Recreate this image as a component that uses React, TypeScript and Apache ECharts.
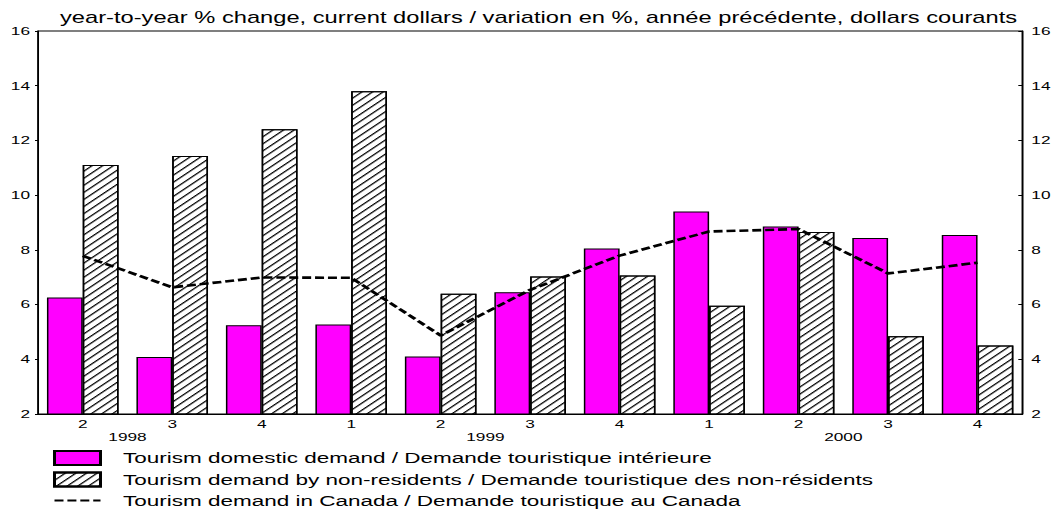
import React, { useEffect, useRef } from "react";
import * as echarts from "echarts";

// ---- data ----
const periods = [
  "1998 Q2", "1998 Q3", "1998 Q4",
  "1999 Q1", "1999 Q2", "1999 Q3", "1999 Q4",
  "2000 Q1", "2000 Q2", "2000 Q3", "2000 Q4",
];
const domesticDemand = [6.26, 4.08, 5.24, 5.27, 4.1, 6.45, 8.05, 9.4, 8.85, 8.43, 8.54];
const nonResidentDemand = [11.1, 11.43, 12.41, 13.8, 6.4, 7.03, 7.06, 5.96, 8.65, 4.84, 4.5];
const canadaDemand = [7.78, 6.63, 6.99, 6.98, 4.87, 6.54, 7.79, 8.67, 8.76, 7.14, 7.53];
const yTicks = { min: 2, max: 16, interval: 2 };

const titleText =
  "year-to-year % change, current dollars / variation en %, année précédente, dollars courants";
const seriesNames = [
  "Tourism domestic demand / Demande touristique intérieure",
  "Tourism demand by non-residents / Demande touristique des non-résidents",
  "Tourism demand in Canada / Demande touristique au Canada",
];

const FONT = "'Liberation Sans', Arial, Helvetica, sans-serif";
const W = 703;
const S = 1055 / W; // horizontal stretch of the original picture

const quarterOf = (p: string) => p.slice(-1);
const yearOf = (p: string) => p.slice(0, 4);
// year label sits at the Q2|Q3 boundary of each year
const yearMarks = periods
  .map((p, i) => ({ p, i }))
  .filter((d) => quarterOf(d.p) === "3")
  .map((d) => ({ value: d.i, label: yearOf(d.p) }));

export default function App() {
  const ref = useRef<HTMLDivElement>(null);

  useEffect(() => {
    if (!ref.current) return;
    const chart = echarts.init(ref.current, undefined, { renderer: "svg" });
    const axisText = { fontFamily: FONT, fontSize: 11.5, color: "#000" };
    chart.setOption({
      animation: false,
      backgroundColor: "#fff",
      title: {
        text: titleText,
        left: 60 / S,
        top: 10,
        padding: 0,
        textStyle: { fontFamily: FONT, fontSize: 15.8, fontWeight: "normal", color: "#000" },
      },
      legend: {
        orient: "vertical",
        left: 53 / S,
        top: 450,
        height: 60,
        padding: 0,
        itemWidth: 46 / S,
        itemHeight: 14,
        itemGap: 5.5,
        textStyle: {
          fontFamily: FONT,
          fontSize: 15,
          lineHeight: 14,
          color: "#000",
          padding: [0, 0, 0, 10],
        },
        data: [
          { name: seriesNames[0], icon: "rect" },
          { name: seriesNames[1], icon: "rect" },
          { name: seriesNames[2], itemStyle: { opacity: 0 } },
        ],
      },
      grid: {
        left: 38 / S,
        right: 29 / S,
        top: 31,
        bottom: 96,
        show: true,
        borderColor: "#000",
        borderWidth: 1,
      },
      xAxis: [
        {
          type: "category",
          data: periods,
          axisLine: { lineStyle: { color: "#000", width: 1 } },
          axisTick: { inside: true, length: 4, lineStyle: { color: "#000" } },
          axisLabel: {
            ...axisText,
            interval: 0,
            margin: 4,
            formatter: (v: string) => quarterOf(v),
          },
        },
        {
          type: "value",
          position: "bottom",
          min: 0,
          max: periods.length,
          axisLine: { show: false },
          axisTick: { show: false },
          splitLine: { show: false },
          axisLabel: {
            ...axisText,
            margin: 17,
            customValues: yearMarks.map((d) => d.value),
            formatter: (v: number) => {
              const m = yearMarks.find((d) => d.value === v);
              return m ? m.label : "";
            },
          },
        },
      ],
      yAxis: [
        {
          type: "value",
          position: "left",
          ...yTicks,
          axisLine: { show: true, lineStyle: { color: "#000" } },
          axisTick: { show: true, inside: false, length: 3 / S, lineStyle: { color: "#000" } },
          axisLabel: { ...axisText, margin: 8 / S },
          splitLine: { show: false },
        },
        {
          type: "value",
          position: "right",
          ...yTicks,
          axisLine: { show: true, lineStyle: { color: "#000" } },
          axisTick: { show: true, inside: true, length: 4 / S, lineStyle: { color: "#000" } },
          axisLabel: { ...axisText, margin: 9 / S },
          splitLine: { show: false },
        },
      ],
      series: [
        {
          name: seriesNames[0],
          type: "bar",
          data: domesticDemand,
          barCategoryGap: "20%",
          barGap: "0%",
          itemStyle: { color: "#ff00ff", borderColor: "#000", borderWidth: 1 },
        },
        {
          name: seriesNames[1],
          type: "bar",
          data: nonResidentDemand,
          barCategoryGap: "20%",
          barGap: "0%",
          itemStyle: {
            color: "#fff",
            borderColor: "#000",
            borderWidth: 1,
            decal: {
              symbol: "rect",
              symbolSize: 1,
              dashArrayX: [1, 0],
              dashArrayY: [1, 4],
              rotation: -Math.PI / 4,
              color: "#000",
              backgroundColor: "#fff",
            },
          },
        },
        {
          name: seriesNames[2],
          type: "line",
          data: canadaDemand,
          symbol: "none",
          z: 5,
          lineStyle: { color: "#000", width: 2.6, type: [6, 2.6] },
          itemStyle: { color: "#000", opacity: 0 },
        },
      ],
    });
    return () => chart.dispose();
  }, []);

  return (
    <div
      style={{
        position: "absolute",
        left: 0,
        top: 0,
        width: 1055,
        height: 510,
        overflow: "hidden",
        background: "#fff",
      }}
    >
      <div
        ref={ref}
        style={{ width: W, height: 510, transform: `scaleX(${S})`, transformOrigin: "0 0" }}
      />
    </div>
  );
}
